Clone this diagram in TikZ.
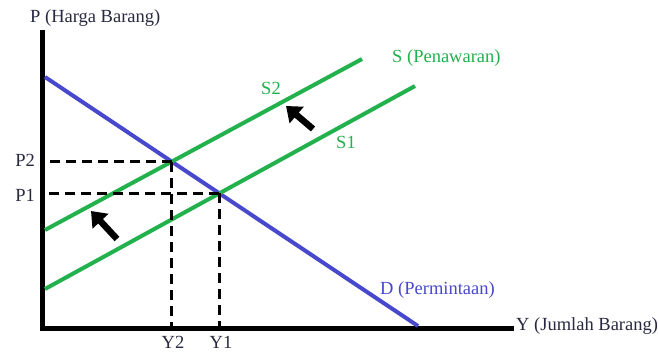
\documentclass[tikz,border=0pt]{standalone}
\usepackage{fontspec}
\setmainfont{Liberation Serif}
\usetikzlibrary{arrows.meta,intersections}
\definecolor{txt}{RGB}{40,40,64}
\definecolor{sgreen}{RGB}{34,177,76}
\definecolor{dblue}{RGB}{72,72,204}
\begin{document}
\begin{tikzpicture}[x=1pt,y=-1pt,
  lbl/.style={font=\fontsize{18.5}{20}\selectfont,text=txt,inner sep=0pt},
  glbl/.style={lbl,text=sgreen},
  blbl/.style={lbl,text=dblue},
  axisline/.style={line width=5pt},
  supply/.style={sgreen,line width=4pt},
  demand/.style={dblue,line width=4pt},
  guide/.style={dashed,line width=2.8pt,dash pattern=on 10pt off 6pt},
  shiftarrow/.style={line width=6.5pt,-{Triangle[width=21pt,length=14pt]}}]
\useasboundingbox (0,0) rectangle (658,352);
% axes
\coordinate (O) at (42,328);
\coordinate (Ptop) at (42,30);
\coordinate (Yend) at (514,328);
\draw[axisline] (Ptop) -- (O) -- (Yend);
% curves
\coordinate (D0) at (45,77);
\coordinate (D1) at (418,326);
\coordinate (S10) at (45,289);
\coordinate (S11) at (415,86);
\coordinate (S20) at (45,230);
\coordinate (S21) at (362,59);
\draw[demand,name path=dd] (D0) -- (D1);
\draw[supply,name path=s1] (S10) -- (S11);
\draw[supply,name path=s2] (S20) -- (S21);
\path[name intersections={of=dd and s2,by=E2}];
\path[name intersections={of=dd and s1,by=E1}];
% guides
\draw[guide] (E2) -- (E2 -| O);
\draw[guide] (E2) -- (E2 |- O);
\draw[guide] (E1) -- (E1 -| O);
\draw[guide] (E1) -- (E1 |- O);
% shift arrows
\coordinate (A1t) at (313,129);
\coordinate (A1h) at (286,106);
\coordinate (A2t) at (117,239);
\coordinate (A2h) at (91,211);
\draw[shiftarrow] (A1t) -- (A1h);
\draw[shiftarrow] (A2t) -- (A2h);
% labels
\node[lbl,anchor=west] (lp) at (30,18) {P (Harga Barang)};
\node[lbl,anchor=west] (ly) at (516,326) {Y (Jumlah Barang)};
\node[lbl,anchor=east] (lp2) at (35,160) {P2};
\node[lbl,anchor=east] (lp1) at (35,195) {P1};
\node[lbl] (ly2) at (173,342) {Y2};
\node[lbl] (ly1) at (221,342) {Y1};
\node[glbl,anchor=west] (ls) at (392,58) {S (Penawaran)};
\node[glbl] (ls2) at (271,88) {S2};
\node[glbl] (ls1) at (346,142) {S1};
\node[blbl,anchor=west] (ld) at (380,290) {D (Permintaan)};
\end{tikzpicture}
\end{document}
